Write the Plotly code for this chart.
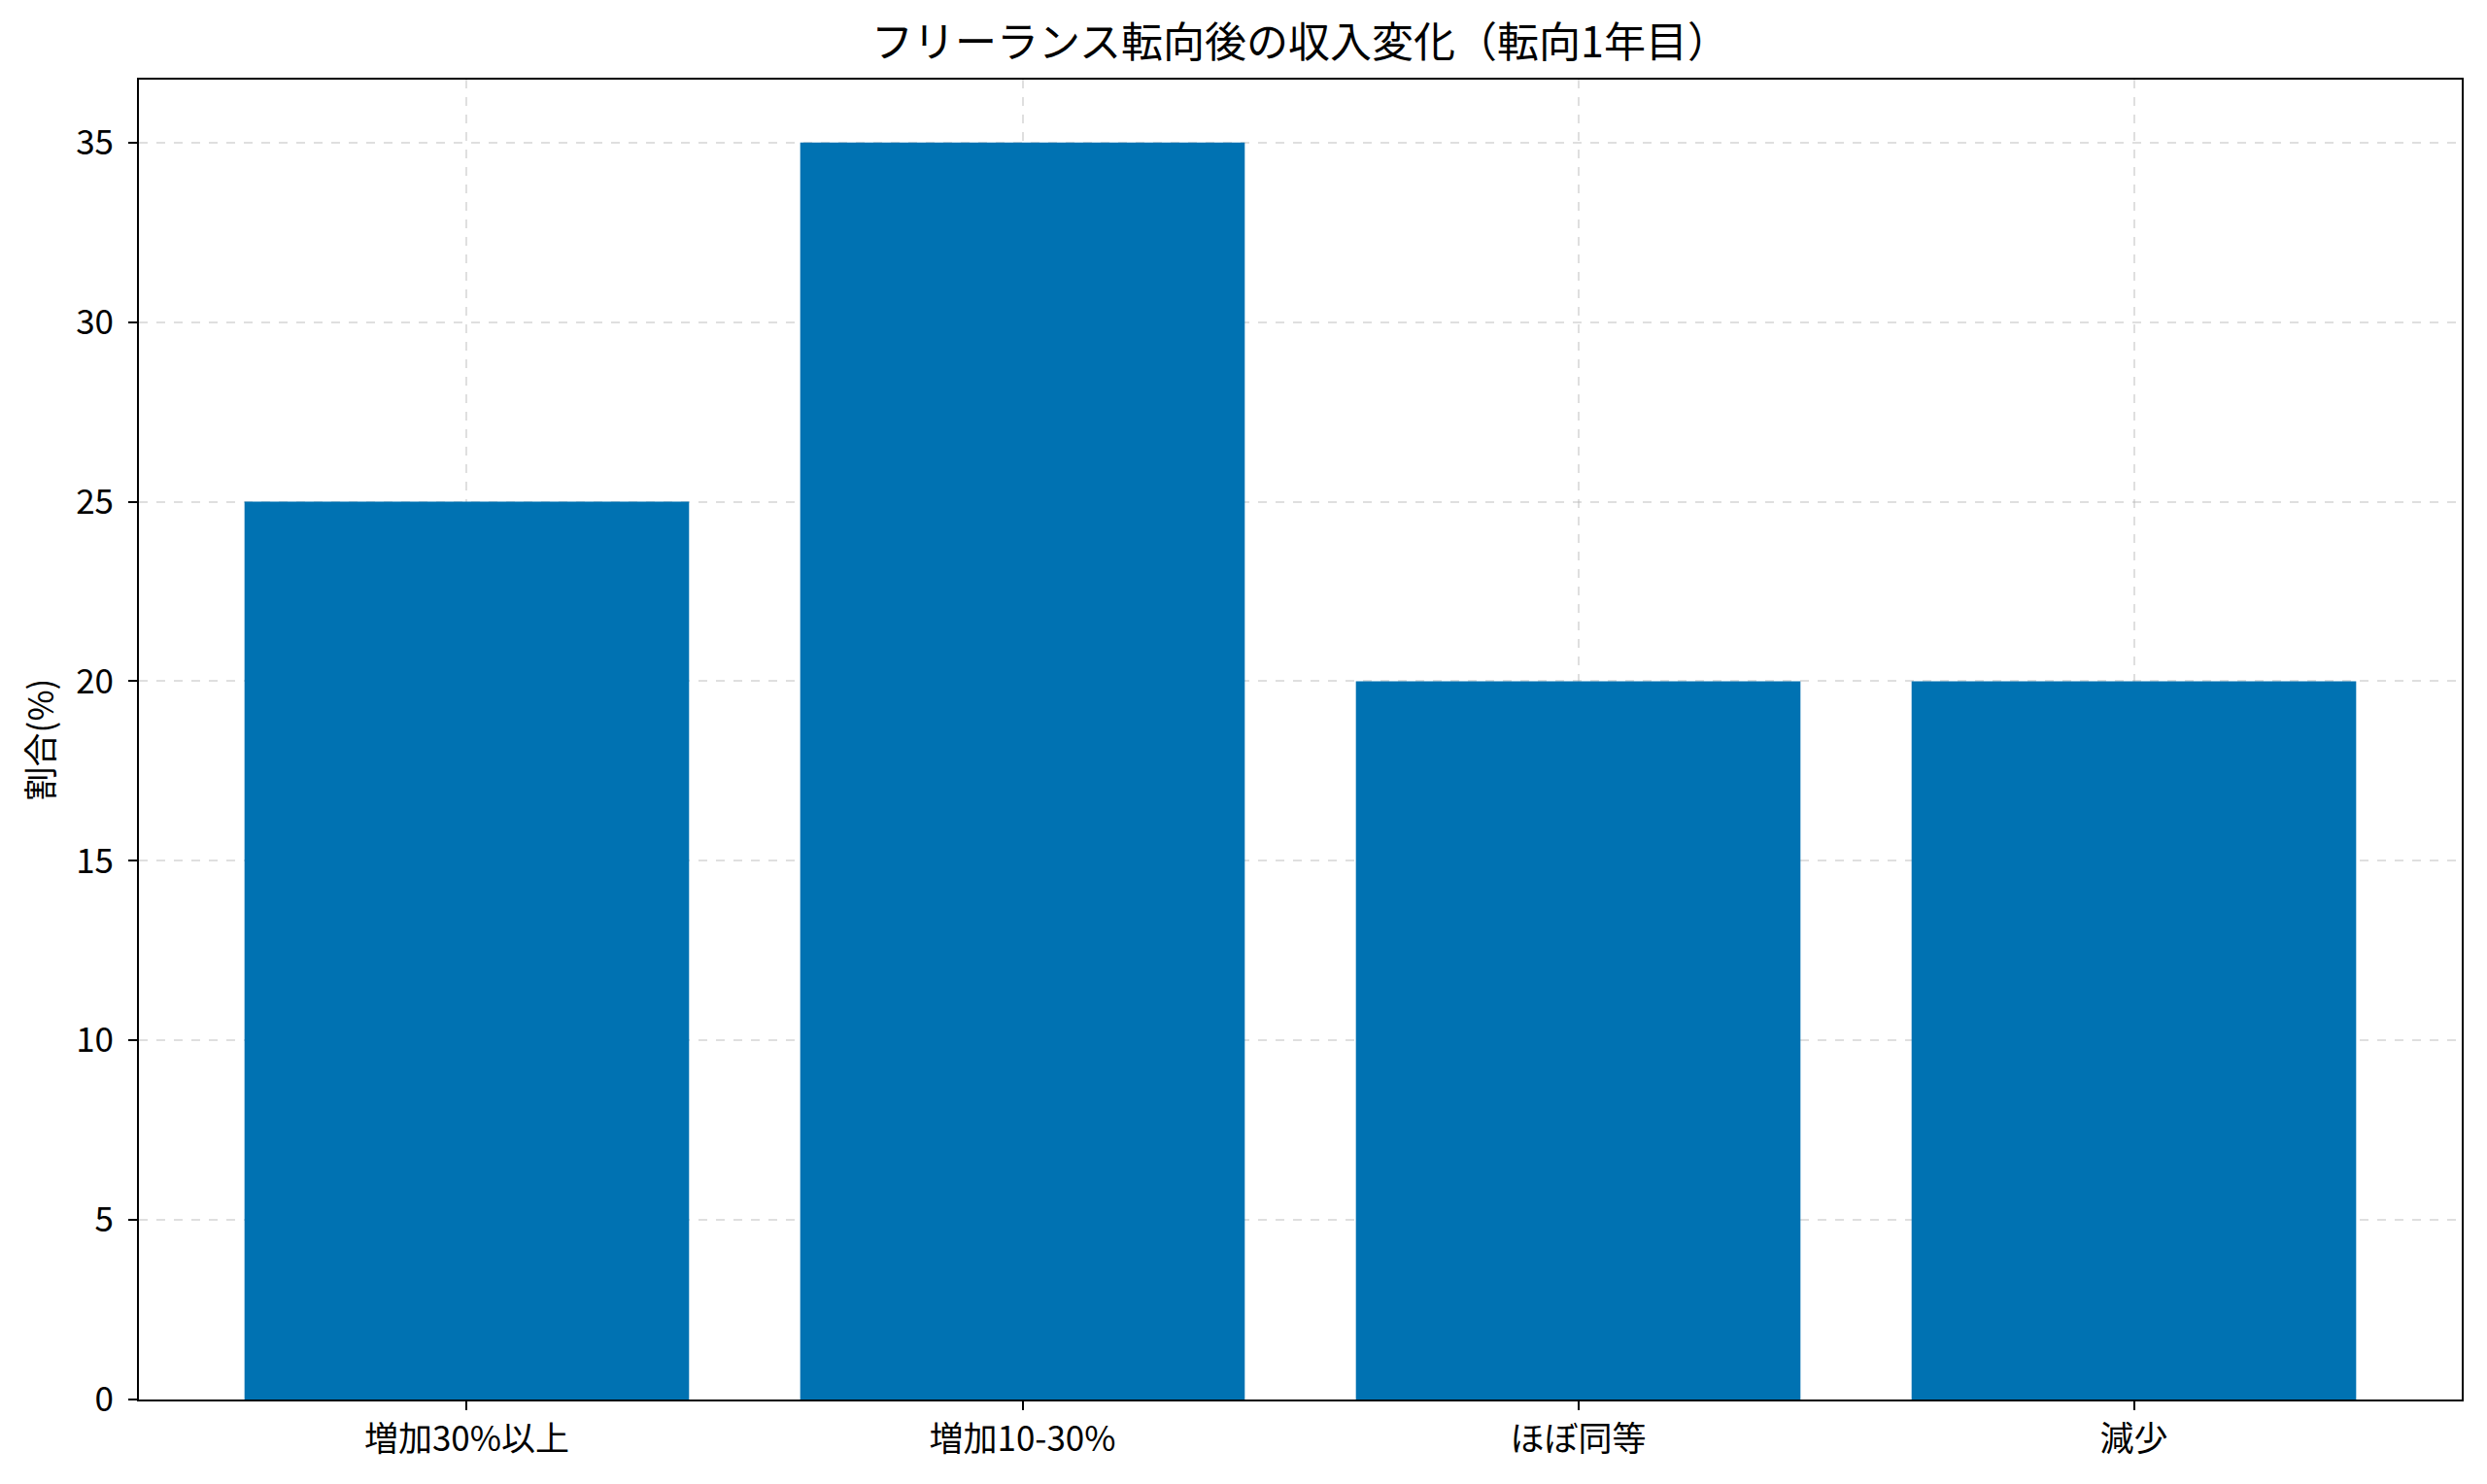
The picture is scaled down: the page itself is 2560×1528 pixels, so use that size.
import plotly.graph_objects as go

# 収入変化の割合（転向1年目）
categories = ["増加30%以上", "増加10-30%", "ほぼ同等", "減少"]
shares = [25, 35, 20, 20]

FONT = "Noto Sans CJK JP"

fig = go.Figure()
fig.add_trace(go.Bar(x=categories, y=shares, width=0.8,
                     marker=dict(color="#0072B2", line=dict(width=0))))

axis_style = dict(
    showline=True, linecolor="black", linewidth=2, mirror=True,
    ticks="outside", ticklen=9, tickwidth=2, tickcolor="black",
    showgrid=True, gridcolor="rgba(185,185,185,0.45)", gridwidth=2, griddash="dash",
    layer="above traces", zeroline=False,
    tickfont=dict(family=FONT, size=35, color="black"),
)

fig.update_xaxes(range=[-0.59, 3.59], **axis_style)
fig.update_yaxes(range=[0, 36.75], dtick=5, ticklabelstandoff=8,
                 title=dict(text="割合(%)", font=dict(family=FONT, size=35, color="black"), standoff=12),
                 **axis_style)

# the page body adds an 8px offset, so the figure is sized to fit
fig.update_layout(
    width=2552, height=1520,
    margin=dict(l=135, r=26, t=74, b=87),
    plot_bgcolor="white", paper_bgcolor="white",
    title=dict(text="フリーランス転向後の収入変化（転向1年目）", xref="paper", x=0.5, xanchor="center",
               y=1 - 36 / 1520, yanchor="middle",
               font=dict(family=FONT, size=43, color="black")),
    showlegend=False,
    bargap=0.2,
)

fig.write_html("out.html")
